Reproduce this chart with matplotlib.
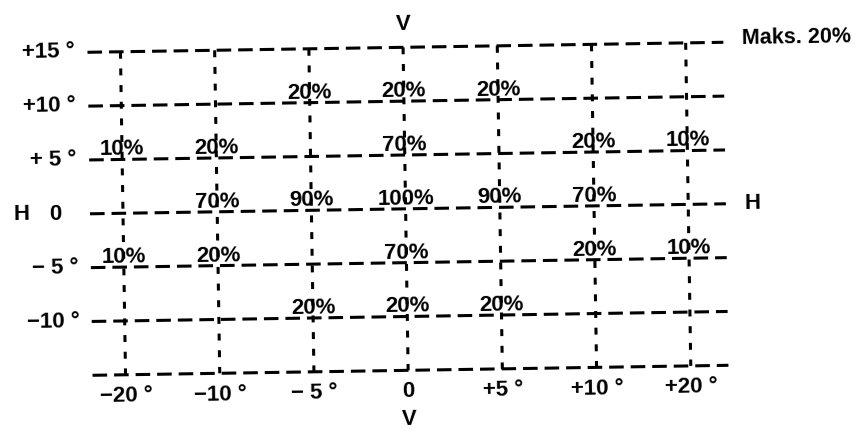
import matplotlib
matplotlib.use("Agg")
import matplotlib.pyplot as plt
from matplotlib.transforms import Affine2D

# --- data ---
col_labels = ["−20 °", "−10 °", "− 5 °", "0", "+5 °", "+10 °", "+20 °"]
row_values = [15, 10, 5, 0, -5, -10, -15]
row_labels = ["+15 °", "+10 °", "+ 5 °", "0", "− 5 °", "−10 °", ""]
# percentages: (row value the label sits on, column index, text)
pct_rows = [10, 10, 10,
            5, 5, 5, 5, 5,
            0, 0, 0, 0, 0,
            -5, -5, -5, -5, -5,
            -10, -10, -10]
pct_cols = [2, 3, 4,
            0, 1, 3, 5, 6,
            1, 2, 3, 4, 5,
            0, 1, 3, 5, 6,
            2, 3, 4]
pct_vals = [20, 20, 20,
            10, 20, 70, 20, 10,
            70, 90, 100, 90, 70,
            10, 20, 70, 20, 10,
            20, 20, 20]

plt.rcParams['font.family'] = ['Liberation Sans', 'DejaVu Sans']
plt.rcParams['lines.scale_dashes'] = False

fig = plt.figure(figsize=(8.57, 4.29), dpi=100)
ax = fig.add_axes([0, 0, 1, 1])
ax.set_xlim(-1.306, 7.79)
ax.set_ylim(-20.48, 19.36)
ax.axis('off')

rot = ax.transData + Affine2D().rotate_deg_around(428.5, 214.5, 0.9)
ang = 0.9

ncol = len(col_labels)
x_left, x_right = -0.35, 6.4
fs = 16

for rv in row_values:
    ax.plot([x_left, x_right], [rv, rv], color='black', lw=2.2,
            dashes=(10.5, 5), transform=rot, solid_capstyle='butt')

for i in range(ncol):
    ax.plot([i, i], [row_values[0], row_values[-1]], color='black', lw=2.2,
            dashes=(5, 7), transform=rot)

# row labels
for rv, lab in zip(row_values, row_labels):
    if not lab:
        continue
    if lab == "0":
        ax.text(-0.72, rv, lab, ha='center', va='center', fontsize=fs,
                fontweight='bold', transform=rot, rotation=ang)
        ax.text(-1.08, rv, "H", ha='center', va='center', fontsize=fs,
                fontweight='bold', transform=rot, rotation=ang)
    else:
        ax.text(-0.48, rv, lab, ha='right', va='center', fontsize=fs,
                fontweight='bold', transform=rot, rotation=ang)

# column labels
for i, lab in enumerate(col_labels):
    ax.text(i, row_values[-1] - 2.0, lab, ha='center', va='center',
            fontsize=fs, fontweight='bold', transform=rot, rotation=ang)

# percentages
for r, c, v in zip(pct_rows, pct_cols, pct_vals):
    ax.text(c, r + 0.38, f"{v}%", ha='center', va='baseline', fontsize=fs,
            fontweight='bold', transform=rot, rotation=ang)

ax.text(3, row_values[0] + 2.15, "V", ha='center', va='center', fontsize=fs,
        fontweight='bold', transform=rot, rotation=ang)
ax.text(3, row_values[-1] - 4.6, "V", ha='center', va='center', fontsize=fs,
        fontweight='bold', transform=rot, rotation=ang)
ax.text(6.6, 0, "H", ha='left', va='center', fontsize=fs,
        fontweight='bold', transform=rot, rotation=ang)
ax.text(6.6, row_values[0] + 0.4, "Maks. 20%", ha='left', va='center',
        fontsize=15.5, fontweight='bold', transform=rot, rotation=ang)

fig.savefig("out.png", dpi=100)
